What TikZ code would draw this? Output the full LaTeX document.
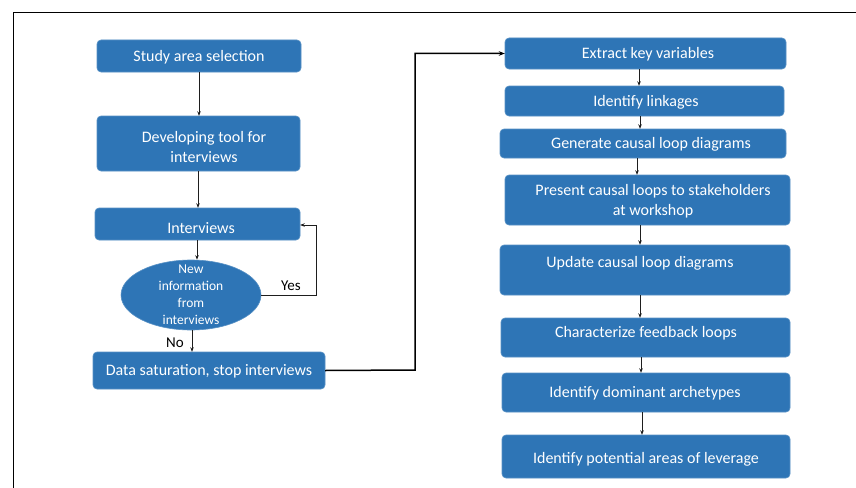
\documentclass[tikz,border=0pt]{standalone}
\usepackage{fontspec}
\setmainfont{Carlito}
\usetikzlibrary{arrows.meta,shapes.geometric}
\definecolor{boxblue}{RGB}{46,117,182}
\definecolor{lineclr}{RGB}{30,30,30}
\tikzset{
  stepbox/.style={fill=boxblue, draw=boxblue!80!white, line width=0.6pt, rounded corners=4pt, inner sep=0pt},
  boxtext/.style={text=white, font=\fontsize{16}{20}\selectfont, align=center, inner sep=0pt},
  qtext/.style={text=white, font=\fontsize{13.5}{17}\selectfont, align=center, inner sep=0pt},
  flow/.style={draw=lineclr, line width=0.7pt, -{Stealth[length=4.5pt,width=3.5pt]}},
  bigflow/.style={draw=black, line width=1.5pt, -{Stealth[length=6pt,width=4.5pt]}},
  answer/.style={text=black, font=\fontsize{15}{17}\selectfont, inner sep=0pt},
}
% rounded box from (x0,y0) to (x1,y1) plus a named node covering it
\newcommand{\boxat}[5]{%
  \path[stepbox] (#2,#3) rectangle (#4,#5);
  \node[inner sep=0pt, minimum width={(#4-#2)*1pt}, minimum height={(#5-#3)*1pt}] (#1) at ({(#2+#4)/2},{(#3+#5)/2}) {};
}
\begin{document}
\begin{tikzpicture}[x=1pt,y=-1pt]
\useasboundingbox (0,0) rectangle (856,487);
\fill[white] (0,0) rectangle (856,487);
% frame
\draw[black, line width=1.8pt] (13.5,490) -- (13.5,12.5) -- (860,12.5);

% left column
\boxat{s1}{97}{40}{301}{72}
\node[boxtext] (t1) at (199,57) {Study area selection};
\boxat{s2}{97}{116}{300}{171}
\node[boxtext] (t2) at (204,147) {Developing tool for\\interviews};
\boxat{s3}{95}{208}{300}{240}
\node[boxtext] (t3) at (201,228) {Interviews};
\node[ellipse, fill=boxblue, draw=boxblue!80!white, line width=0.6pt, minimum width=140pt, minimum height=70pt, inner sep=0pt] (q) at (191,295) {};
\node[qtext] (tq) at (191,295) {New\\information\\from\\interviews};
\boxat{s4}{93}{352}{325}{389}
\node[boxtext] (t4) at (209,371) {Data saturation, stop interviews};

% right column
\boxat{r1}{505}{38}{786}{69}
\node[boxtext] (u1) at (648,54) {Extract key variables};
\boxat{r2}{505}{86}{784}{116}
\node[boxtext] (u2) at (646,102) {Identify linkages};
\boxat{r3}{500}{129}{786}{158}
\node[boxtext] (u3) at (651,144) {Generate causal loop diagrams};
\boxat{r4}{505}{175}{790}{225}
\node[boxtext] (u4) at (653,201) {Present causal loops to stakeholders\\at workshop};
\boxat{r5}{500}{245}{790}{295}
\node[boxtext] (u5) at (640,263) {Update causal loop diagrams};
\boxat{r6}{501}{318}{790}{357}
\node[boxtext] (u6) at (646,333) {Characterize feedback loops};
\boxat{r7}{502}{373}{790}{412}
\node[boxtext] (u7) at (645,393) {Identify dominant archetypes};
\boxat{r8}{502}{435}{790}{478}
\node[boxtext] (u8) at (646,459) {Identify potential areas of leverage};

% left column connectors
\draw[flow] (s1.south -| 199,0) -- (s2.north -| 199,0);
\draw[flow] (s2.south -| 198,0) -- (s3.north -| 198,0);
\draw[flow] (s3.south -| 197,0) -- (q.north -| 197,0);
\draw[flow] (q.south -| 192,0) -- (s4.north -| 192,0);
\draw[flow] (q.east) -| (316,225) -- (s3.east |- 0,225);
\node[answer] (yes) at (291,286) {Yes};
\node[answer] (no) at (175,343) {No};

% link between the two columns
\draw[bigflow] (s4.east) -- (415,370) |- (r1.west);

% right column connectors
\draw[flow] (r1.south -| 639,0) -- (r2.north -| 639,0);
\draw[flow] (r2.south -| 640,0) -- (r3.north -| 640,0);
\draw[flow] (r3.south -| 637,0) -- (r4.north -| 637,0);
\draw[flow] (r4.south -| 640,0) -- (r5.north -| 640,0);
\draw[flow] (r5.south -| 640,0) -- (r6.north -| 640,0);
\draw[flow] (r6.south -| 641,0) -- (r7.north -| 641,0);
\draw[flow] (r7.south -| 642,0) -- (r8.north -| 642,0);
\end{tikzpicture}
\end{document}
